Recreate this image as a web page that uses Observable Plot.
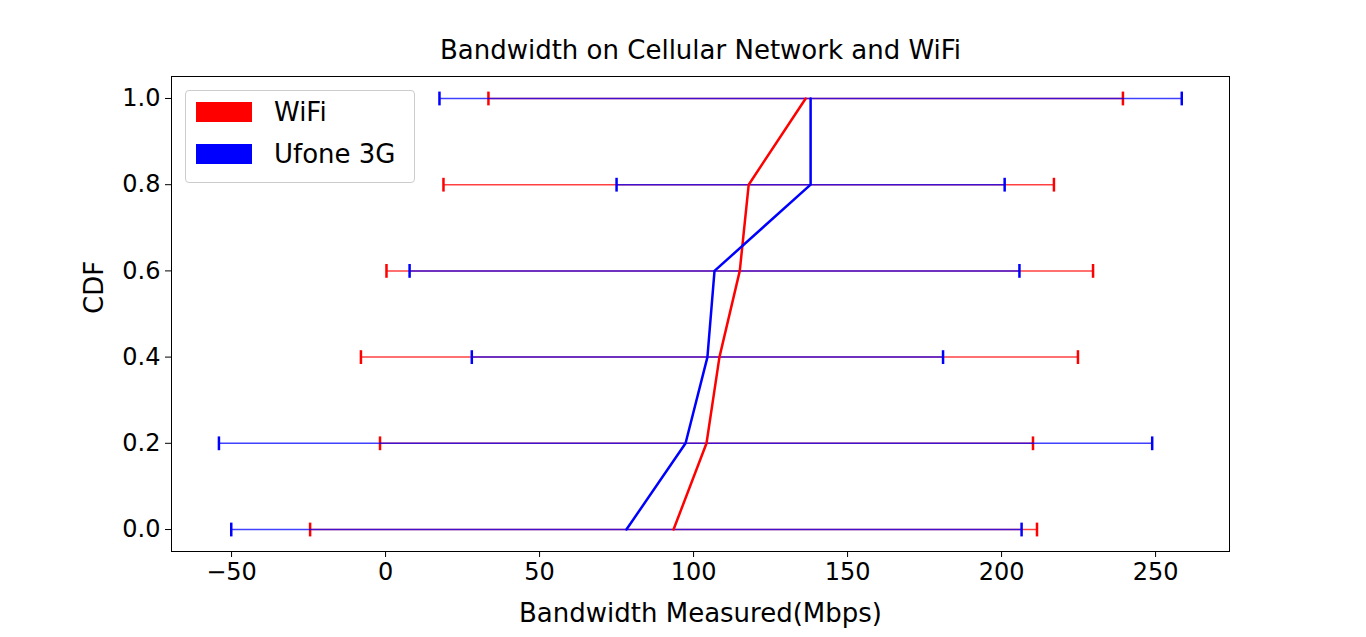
<!DOCTYPE html>
<html>
<head>
<meta charset="utf-8">
<script src="https://cdn.jsdelivr.net/npm/d3@7"></script>
<script src="https://cdn.jsdelivr.net/npm/@observablehq/plot@0.6"></script>
<style>
  body { margin: 0; background: #fff; font-family: "DejaVu Sans", sans-serif; }
  #wrap { position: relative; width: 1366px; height: 637px; }
  #legend { position: absolute; left: 185px; top: 90px; width: 228px; height: 91px;
    border: 1px solid #ccc; border-radius: 4px; background: rgba(255,255,255,0.8);
    font-size: 26px; }
  .row { position: absolute; left: 10px; display: flex; align-items: center; }
  .sw { width: 56px; height: 20px; margin-right: 22px; }
</style>
</head>
<body>
<div id="wrap">
  <div id="chart"></div>
  <div id="legend">
    <div class="row" style="top:6px"><div class="sw" style="background:red"></div>WiFi</div>
    <div class="row" style="top:48px"><div class="sw" style="background:blue"></div>Ufone 3G</div>
  </div>
</div>
<script>
const cdf = [0.0, 0.2, 0.4, 0.6, 0.8, 1.0];
const wifiMean = [93.5, 104.2, 108.4, 115, 117.9, 136.4];
const wifiErr = [118, 106, 116.4, 114.7, 99.1, 103];
const ufoneMean = [78.2, 97.4, 104.5, 106.8, 138, 138];
const ufoneErr = [128.3, 151.5, 76.5, 99, 63, 120.5];
const xTicks = [-50, 0, 50, 100, 150, 200, 250];

const rows = (mean, err) => cdf.map((c, i) => ({y: c, x: mean[i], lo: mean[i] - err[i], hi: mean[i] + err[i]}));
const wifi = rows(wifiMean, wifiErr);
const ufone = rows(ufoneMean, ufoneErr);
const cap = 0.016;

const errMarks = (data, color) => [
  Plot.link(data, {x1: "lo", x2: "hi", y1: "y", y2: "y", stroke: color, strokeWidth: 1.5, strokeOpacity: 0.75}),
  Plot.link(data, {x1: "lo", x2: "lo", y1: d => d.y - cap, y2: d => d.y + cap, stroke: color, strokeWidth: 2.5}),
  Plot.link(data, {x1: "hi", x2: "hi", y1: d => d.y - cap, y2: d => d.y + cap, stroke: color, strokeWidth: 2.5})
];

const chart = Plot.plot({
  width: 1366, height: 637,
  marginLeft: 171, marginRight: 137, marginTop: 76, marginBottom: 86,
  style: {fontFamily: "DejaVu Sans, sans-serif", color: "#000"},
  x: {domain: [-69.5, 274], label: null},
  y: {domain: [-0.051, 1.051], label: null},
  marks: [
    Plot.frame({stroke: "#000"}),
    Plot.axisX({ticks: xTicks, tickSize: 6, tickPadding: 5, fontSize: 24, label: null}),
    Plot.axisY({ticks: cdf, tickFormat: d3.format(".1f"), tickSize: 6, tickPadding: 5, fontSize: 24, label: null}),
    ...errMarks(wifi, "red"),
    ...errMarks(ufone, "blue"),
    Plot.line(wifi, {x: "x", y: "y", stroke: "red", strokeWidth: 2.5}),
    Plot.line(ufone, {x: "x", y: "y", stroke: "blue", strokeWidth: 2.5}),
    Plot.text(["Bandwidth on Cellular Network and WiFi"], {frameAnchor: "top", dy: -18, lineAnchor: "bottom", fontSize: 26, fill: "#000"}),
    Plot.text(["Bandwidth Measured(Mbps)"], {frameAnchor: "bottom", dy: 70, lineAnchor: "bottom", fontSize: 26, fill: "#000"}),
    Plot.text(["CDF"], {frameAnchor: "left", dx: -77, rotate: -90, fontSize: 26, fill: "#000"})
  ]
});
d3.select("#chart").append(() => chart);
</script>
</body>
</html>
